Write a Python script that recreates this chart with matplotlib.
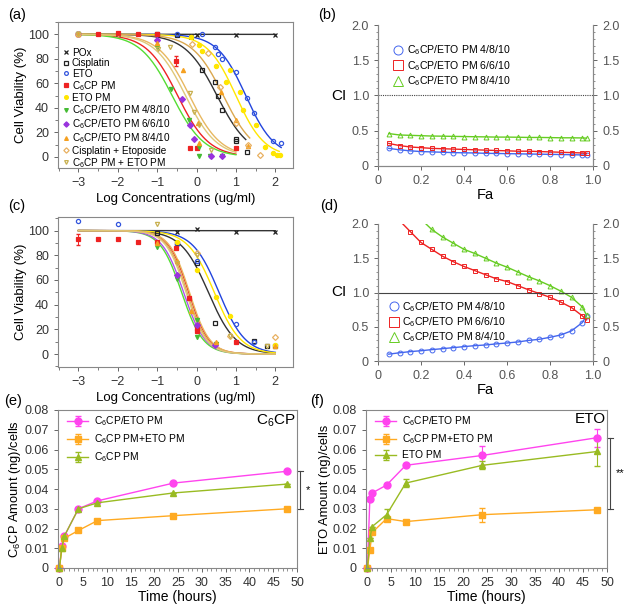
import matplotlib
matplotlib.use('Agg')
import matplotlib.pyplot as plt
import matplotlib.transforms as mtransforms
from matplotlib.ticker import MultipleLocator
import numpy as np

plt.rcParams['font.family'] = ['Liberation Sans', 'DejaVu Sans']
plt.rcParams['axes.edgecolor'] = '#888888'
plt.rcParams['xtick.color'] = '#666666'
plt.rcParams['ytick.color'] = '#666666'
plt.rcParams['xtick.labelcolor'] = '#333333'
plt.rcParams['ytick.labelcolor'] = '#333333'

C6 = r'C$_\mathregular{6}$CP'

# ---------------- (a) / (c) cell viability ----------------
names = ['POx', 'Cisplatin', 'ETO', f'{C6} PM', 'ETO PM',
         f'{C6}/ETO PM 4/8/10', f'{C6}/ETO PM 6/6/10', f'{C6}/ETO PM 8/4/10',
         'Cisplatin + Etoposide', f'{C6} PM + ETO PM']
mk_colors = ['#222222', '#222222', '#3355dd', '#ee2222', '#ffe600',
             '#44bb33', '#9933dd', '#f5a020', '#e8b060', '#c8b050']
markers = ['x', 's', 'o', 's', 'o', 'v', 'D', '^', 'D', 'v']
filled = [True, False, False, True, True, True, True, True, False, False]

a_x = [[-3, -2, -1, -0.15, 0, 1, 2],
       [-3, -1, -0.5, 0.15, 0.48, 0.55, 0.65, 1.0, 1.0, 1.27],
       [-3, -0.5, 0.15, 0.48, 0.54, 0.65, 1.0, 1.27, 1.47, 1.93, 2.14],
       [-3, -2.5, -2, -1.5, -1, -0.52, -0.17, 0.0, 1.0],
       [-3, -0.15, 0.07, 0.15, 0.5, 0.75, 0.85, 1.1, 1.17, 1.5, 1.75, 1.95, 2.05, 2.12],
       [-3, -1, -0.65, -0.2, 0.05, 0.07, 0.35, 0.65],
       [-3, -1, -0.36, -0.17, -0.07, 0.37, 0.65],
       [-3, -1, -0.35, 0.03, 0.05, 0.62, 1.0, 1.3],
       [-3, -0.12, 0.3, 0.6, 1.0, 1.3, 1.6],
       [-3, -0.97, -0.67, -0.17, -0.06, 0.07, 0.37]]
a_y = [[100, 100, 100, 98, 99, 99, 99],
       [100, 100, 99, 71, 61, 50, 38, 15, 13, 4],
       [100, 100, 100, 90, 84, 80, 69, 48, 36, 13, 11],
       [100, 100, 101, 100, 100, 78, 7, 7, 7],
       [100, 98, 91, 86, 74, 61, 71, 53, 38, 26, 8, 3, 2, 1.5],
       [100, 90, 55, 30, 8, 1, 1, 1],
       [100, 95, 47, 26, 15, 1, 1],
       [100, 93, 71, 28, 11, 53, 30, 9],
       [100, 92, 85, 57, 28, 10, 1.5],
       [100, 88, 90, 52, 37, 26, 5.5]]
# fitted dose-response parameters (log IC50, Hill slope, end of fit line, line colour)
a_ic50 = [5.0, 0.52, 1.25, -0.48, 1.0, -0.62, None, -0.18, 0.68, -0.28]
a_hill = [1.0, 1.07, 1.2, 1.1, 1.2, 1.07, None, 1.1, 1.1, 1.1]
a_xend = [2.0, 1.25, 2.15, 1.0, 2.1, 1.0, None, 1.0, 1.35, 1.0]
line_colors = ['#333333', '#333333', '#2244dd', '#ee2222', '#ffe600',
               '#55dd33', '#aa55ee', '#e8b860', '#dba850', '#e0c878']

c_x = [[-0.5, 0, 1, 2],
       [-1, -0.5, 0, 0.46, 1.47, 1.8, 2],
       [-3, -2, -0.5, 0, 1, 1.47],
       [-3, -2.5, -2, -1.5, -1, -0.52, -0.18, 0, 0, 1],
       [-0.5, 0, 0.5, 0.84, 2],
       [-1, -0.5, 0, 0, 0.5],
       [-0.5, 0, 0.46],
       [-1, -0.5, -0.14, 0.5, 2],
       [0, 0.84, 2],
       [-1, -0.5, 0, 0.84, 1.8]]
c_y = [[99, 101, 99, 99],
       [98, 90, 73.5, 25, 10.5, 6.5, 6.5],
       [108, 105, 89, 75, 24, 10],
       [93, 93, 93, 90.5, 90.5, 85.7, 45, 21, 19, 10],
       [91, 68, 46, 31, 7],
       [87, 61, 27.5, 14, 8],
       [64, 23.5, 7.3],
       [90, 75, 35, 10, 6.5],
       [82, 15, 13.5],
       [105, 73.5, 80, 14.6, 6.5]]
c_ic50 = [5.0, 0.3, 0.57, -0.2, 0.45, -0.38, -0.33, -0.18, -0.24, -0.27]
c_hill = [1.0, 1.25, 1.3, 1.7, 1.3, 1.6, 1.6, 1.7, 1.7, 1.7]

# ---------------- (b) / (d) combination index ----------------
fa = [0.05, 0.1, 0.15, 0.2, 0.25, 0.3, 0.35, 0.4, 0.45, 0.5, 0.55, 0.6, 0.65,
      0.7, 0.75, 0.8, 0.85, 0.9, 0.95, 0.97]
b_448 = [0.25, 0.23, 0.215, 0.205, 0.2, 0.195, 0.19, 0.187, 0.185, 0.18, 0.178,
         0.175, 0.173, 0.17, 0.168, 0.165, 0.163, 0.16, 0.157, 0.155]
b_666 = [0.32, 0.29, 0.27, 0.26, 0.25, 0.245, 0.24, 0.235, 0.23, 0.225, 0.22,
         0.215, 0.21, 0.21, 0.205, 0.2, 0.195, 0.19, 0.185, 0.18]
b_884 = [0.46, 0.44, 0.435, 0.43, 0.425, 0.423, 0.42, 0.418, 0.415, 0.413, 0.41,
         0.41, 0.408, 0.405, 0.405, 0.403, 0.4, 0.4, 0.398, 0.395]
d_448 = [0.10, 0.12, 0.137, 0.15, 0.166, 0.18, 0.195, 0.21, 0.224, 0.234, 0.25,
         0.263, 0.278, 0.30, 0.317, 0.346, 0.38, 0.44, 0.56, 0.66]
d_666 = [2.35, 2.05, 1.89, 1.73, 1.63, 1.53, 1.45, 1.38, 1.32, 1.26, 1.2, 1.16,
         1.1, 1.04, 0.985, 0.93, 0.86, 0.78, 0.66, 0.6]
d_884 = [2.9, 2.6, 2.3, 2.07, 1.92, 1.81, 1.72, 1.63, 1.57, 1.5, 1.43, 1.37, 1.3,
         1.23, 1.17, 1.1, 1.02, 0.93, 0.79, 0.67]
ci_labels = [f'{C6}/ETO PM 4/8/10', f'{C6}/ETO PM 6/6/10', f'{C6}/ETO PM 8/4/10']

# ---------------- (e) / (f) uptake ----------------
hours = [0, 0.5, 1, 4, 8, 24, 48]
e_combo = [0, 0.011, 0.016, 0.030, 0.034, 0.043, 0.049]
e_mix = [0, 0.010, 0.015, 0.019, 0.024, 0.0265, 0.030]
e_single = [0, 0.010, 0.016, 0.030, 0.033, 0.038, 0.0425]
f_combo = [0, 0.035, 0.038, 0.042, 0.052, 0.057, 0.066]
f_combo_err = [0, 0, 0, 0, 0, 0.005, 0.0045]
f_mix = [0, 0.009, 0.018, 0.025, 0.0235, 0.027, 0.0295]
f_mix_err = [0, 0, 0, 0.001, 0, 0.0035, 0]
f_single = [0, 0.015, 0.021, 0.027, 0.043, 0.052, 0.059]
f_single_err = [0, 0, 0, 0.003, 0.002, 0.002, 0.0075]

W, H = 628, 610
fig = plt.figure(figsize=(6.28, 6.10), dpi=100)


def box(l, t, r, b):
    return [l / W, 1 - b / H, (r - l) / W, (b - t) / H]


def hill(x, c, h):
    return 100 / (1 + 10 ** (h * (x - c)))


def viability(ax, xs, ys, ic50, hillc, xend, legend):
    for i in range(len(names)):
        if ic50[i] is None:
            continue
        xx = np.linspace(-3, xend[i], 200)
        ax.plot(xx, hill(xx, ic50[i], hillc[i]), color=line_colors[i], lw=1.0, zorder=2)
    for i in range(len(names)):
        fc = mk_colors[i] if filled[i] else 'none'
        ax.plot(xs[i], ys[i], ls='none', marker=markers[i], ms=3.0,
                mfc=fc, mec=mk_colors[i], mew=0.9, label=names[i], zorder=3)
    ax.set_xlim(-3.52, 2.45)
    ax.xaxis.set_major_locator(MultipleLocator(1))
    ax.xaxis.set_minor_locator(MultipleLocator(0.5))
    ax.yaxis.set_major_locator(MultipleLocator(20))
    ax.yaxis.set_minor_locator(MultipleLocator(10))
    ax.tick_params(labelsize=9, length=3, width=0.7)
    ax.tick_params(which='minor', length=2, width=0.6)
    ax.set_ylabel('Cell Viability (%)', fontsize=9.5, labelpad=1)
    ax.set_xlabel('Log Concentrations (ug/ml)', fontsize=9.5, labelpad=3)
    if legend:
        ax.legend(loc='upper left', bbox_to_anchor=(-0.01, 0.87), frameon=False,
                  fontsize=7.2, handlelength=0.6, handletextpad=0.3,
                  labelspacing=0.03, borderpad=0.2, markerscale=0.9)


ax_a = fig.add_axes(box(58, 22, 293, 168))
viability(ax_a, a_x, a_y, a_ic50, a_hill, a_xend, True)
ax_a.errorbar([-0.52], [78], yerr=[4], color='#ee2222', ls='none', capsize=1.5, lw=0.7)
ax_a.set_ylim(-9, 110)

ax_c = fig.add_axes(box(58, 217, 293, 367))
viability(ax_c, c_x, c_y, c_ic50, c_hill, [2.0] * 10, False)
ax_c.errorbar([-3], [93], yerr=[4.5], color='#ee2222', ls='none', capsize=1.5, lw=0.7)
ax_c.set_ylim(-10.5, 111)


def ci_panel(ax, ys, leg_anchor, dotted):
    cols = ['#4466ee', '#ee2222', '#66cc22']
    mks = ['o', 's', '^']
    for y, col, m, lab in zip(ys, cols, mks, ci_labels):
        ax.plot(fa, y, color=col, lw=1.0, marker=m, ms=3.5, mfc='none',
                mec=col, mew=0.7, label=lab)
    ax.axhline(1.0, color='#444444', lw=0.8, ls=(0, (1, 1)) if dotted else '-')
    ax.set_xlim(0, 1.0)
    ax.set_ylim(0, 2.0)
    ax.spines['top'].set_visible(False)
    ax.yaxis.set_minor_locator(MultipleLocator(0.1))
    ax.set_yticks([0, 0.5, 1.0, 1.5, 2.0], ['0', '0.5', '1.0', '1.5', '2.0'])
    ax.set_xticks([0, 0.2, 0.4, 0.6, 0.8, 1.0], ['0', '0.2', '0.4', '0.6', '0.8', '1.0'])
    ax.tick_params(labelsize=9, length=3, width=0.7, labelcolor='#555555')
    ax.tick_params(which='minor', length=1.5, width=0.5)
    ax.set_xlabel('Fa', fontsize=10.5, labelpad=1)
    ax.set_ylabel('CI', fontsize=11, rotation=0, labelpad=9, va='center')
    axr = ax.twinx()
    axr.set_ylim(0, 2.0)
    axr.spines['top'].set_visible(False)
    axr.set_yticks([0, 0.5, 1.0, 1.5, 2.0], ['0', '0.5', '1.0', '1.5', '2.0'])
    axr.yaxis.set_minor_locator(MultipleLocator(0.1))
    axr.tick_params(labelsize=9, length=3, width=0.7, labelcolor='#555555')
    axr.tick_params(which='minor', length=1.5, width=0.5)
    leg = ax.legend(loc='upper left', bbox_to_anchor=leg_anchor, frameon=False,
                    fontsize=7.6, handlelength=0.8, handletextpad=0.4,
                    labelspacing=0.15, borderpad=0.2)
    for h in leg.legend_handles:
        h.set_linestyle('none')
        h.set_markersize(6.5)


ax_b = fig.add_axes(box(378, 25, 593, 166))
ci_panel(ax_b, [b_448, b_666, b_884], (0.04, 0.92), True)

ax_d = fig.add_axes(box(378, 224, 593, 361))
ci_panel(ax_d, [d_448, d_666, d_884], (0.02, 0.5), False)


def uptake(ax, combo, mix, single, errs, single_lab, corner, star, ytop, ybot, ylab):
    ax.errorbar(hours, combo, yerr=errs[0], color='#ff44ee', marker='o', ms=5,
                lw=1.0, capsize=2, elinewidth=0.8, label=f'{C6}/ETO PM', clip_on=False)
    ax.errorbar(hours, mix, yerr=errs[1], color='#ffaa22', marker='s', ms=5,
                lw=1.0, capsize=2, elinewidth=0.8, label=f'{C6} PM+ETO PM', clip_on=False)
    ax.errorbar(hours, single, yerr=errs[2], color='#99bb22', marker='^', ms=5,
                lw=1.0, capsize=2, elinewidth=0.8, label=single_lab, clip_on=False)
    ax.set_xlim(-0.3, 50)
    ax.set_ylim(0, 0.08)
    ax.xaxis.set_major_locator(MultipleLocator(5))
    ax.xaxis.set_minor_locator(MultipleLocator(1))
    ax.set_yticks(np.arange(0, 0.081, 0.01),
                  ['0', '0.01', '0.02', '0.03', '0.04', '0.05', '0.06', '0.07', '0.08'])
    ax.tick_params(labelsize=9, length=3, width=0.7)
    ax.tick_params(which='minor', length=2, width=0.5)
    ax.set_xlabel('Time (hours)', fontsize=10, labelpad=1)
    ax.set_ylabel(ylab, fontsize=9.3, labelpad=1)
    ax.text(0.995, 0.985, corner, transform=ax.transAxes, ha='right', va='top', fontsize=11)
    ax.legend(loc='upper left', bbox_to_anchor=(0.0, 1.03), frameon=False,
              fontsize=7.4, handlelength=2.0, handletextpad=0.6, labelspacing=0.4)
    tr = mtransforms.blended_transform_factory(ax.transAxes, ax.transData)
    ax.plot([1.0, 1.025], [ytop, ytop], color='#444444', lw=0.8, transform=tr, clip_on=False)
    ax.plot([1.0, 1.025], [ybot, ybot], color='#444444', lw=0.8, transform=tr, clip_on=False)
    ax.plot([1.012, 1.012], [ybot, ytop], color='#444444', lw=0.8, transform=tr, clip_on=False)
    ax.text(1.035, (ytop + ybot) / 2, star, transform=tr, fontsize=8, va='center', ha='left')


zero = [0] * 7
ax_e = fig.add_axes(box(58, 410, 297, 568))
uptake(ax_e, e_combo, e_mix, e_single, [zero, zero, zero], f'{C6} PM', C6, '*',
       0.049, 0.030, f'{C6} Amount (ng)/cells')

ax_f = fig.add_axes(box(366, 410, 607, 568))
uptake(ax_f, f_combo, f_mix, f_single, [f_combo_err, f_mix_err, f_single_err],
       'ETO PM', 'ETO', '**', 0.066, 0.030, 'ETO Amount (ng)/cells')

for lab, x, y in [('(a)', 8, 15), ('(b)', 318, 15), ('(c)', 8, 206),
                  ('(d)', 320, 206), ('(e)', 4, 401), ('(f)', 310, 401)]:
    fig.text(x / W, 1 - y / H, lab, fontsize=10.5, va='center', ha='left')

fig.savefig('out.png', dpi=100)
